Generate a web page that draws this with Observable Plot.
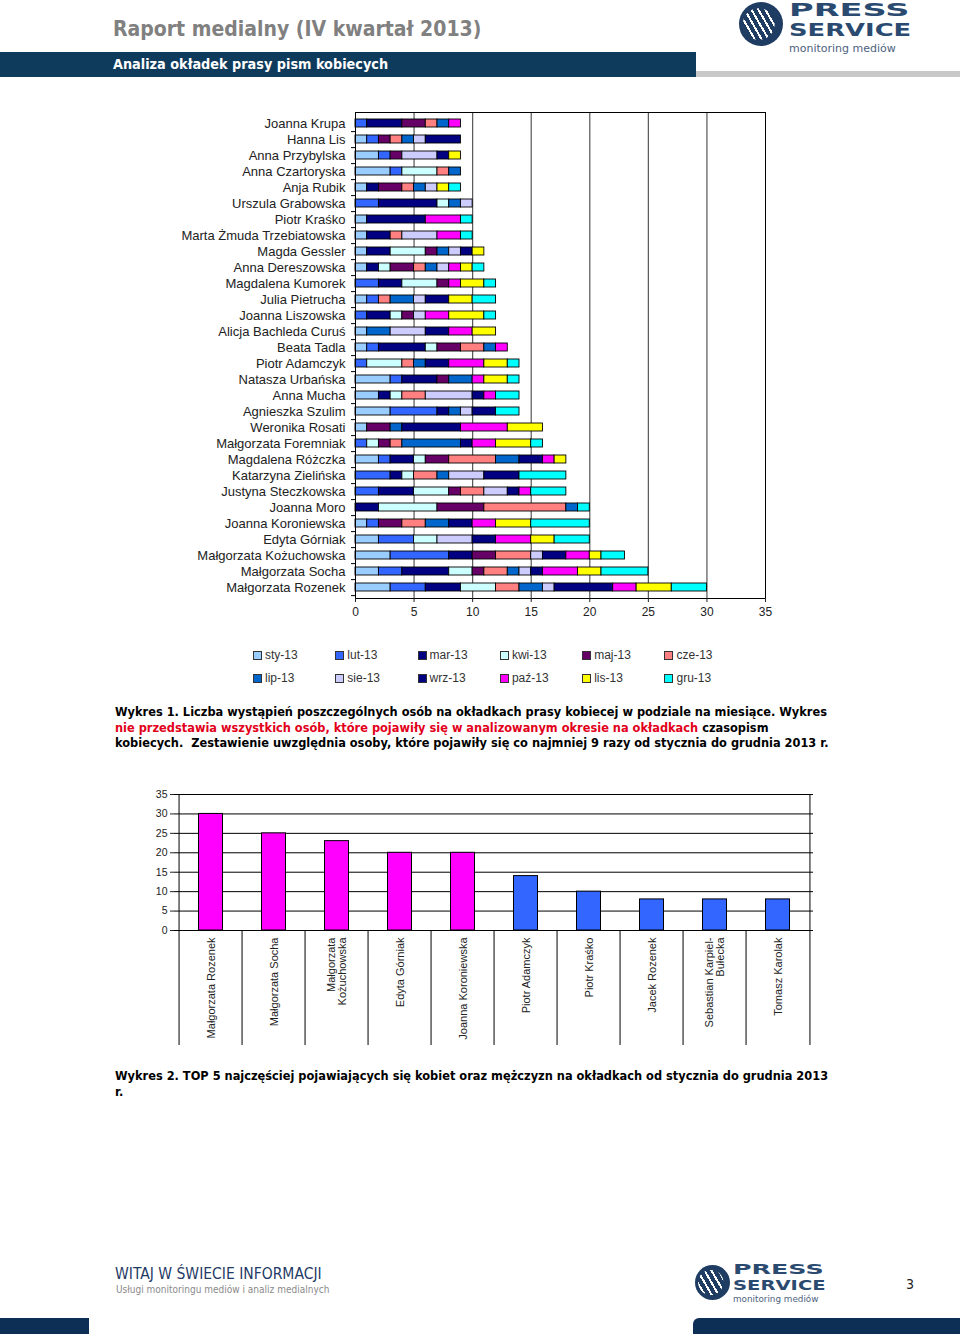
<!DOCTYPE html>
<html><head><meta charset="utf-8">
<script src="https://cdn.jsdelivr.net/npm/d3@7"></script>
<script src="https://cdn.jsdelivr.net/npm/@observablehq/plot@0.6"></script>
<style>
html,body{margin:0;padding:0;background:#fff;}
#page{position:relative;width:960px;height:1334px;overflow:hidden;font-family:"Liberation Sans",Arial,sans-serif;}
.abs{position:absolute;}
#title{left:113px;top:17px;font-family:"DejaVu Sans Condensed","DejaVu Sans",sans-serif;font-weight:bold;font-size:21px;color:#808080;white-space:nowrap;}
#band{left:0;top:52px;width:696px;height:25px;background:#0e3b5c;}
#bandtext{left:113px;top:56px;font-family:"DejaVu Sans Condensed","DejaVu Sans",sans-serif;font-weight:bold;font-size:14.3px;color:#fff;white-space:nowrap;}
#grayline{left:696px;top:71px;width:264px;height:6px;background:#c8c8c8;}
.logo{position:absolute;}
.logo .circ{position:absolute;border-radius:50%;background:#1f3d62;overflow:hidden;}
.logo .circ:after{content:"";position:absolute;inset:0;background:repeating-linear-gradient(60deg,transparent 0 4px,#ffffff 4px 6px);clip-path:circle(36% at 45% 50%);}
.logo .t1{position:absolute;font-family:"DejaVu Sans",sans-serif;font-weight:bold;color:#2b4a70;white-space:nowrap;transform-origin:0 0;line-height:1;}
.logo .t3{position:absolute;font-family:"DejaVu Sans","Liberation Sans",sans-serif;color:#4d6280;white-space:nowrap;line-height:1;}
.cap{font-family:"DejaVu Sans",Verdana,sans-serif;font-weight:bold;font-size:11.4px;line-height:15.5px;color:#000;white-space:nowrap;}
.red{color:#e2001a;}
#legend{left:253px;top:648px;display:grid;grid-template-columns:repeat(6,82.3px);row-gap:9px;font-size:12px;color:#333;}
#legend .it{display:flex;align-items:center;height:14px;white-space:nowrap;}
#legend .sw{width:7px;height:7px;border:1px solid #333;margin-right:3px;}
#foot1{left:115px;top:1265px;font-family:"DejaVu Sans Condensed","DejaVu Sans",sans-serif;font-size:15.5px;color:#1f3b66;white-space:nowrap;}
#foot2{left:116px;top:1284px;font-family:"DejaVu Sans Condensed","DejaVu Sans",sans-serif;font-size:10px;color:#8a8a8a;white-space:nowrap;}
#pnum{left:906px;top:1276px;font-family:"DejaVu Sans Condensed",sans-serif;font-size:14px;color:#222;}
#botL{left:0;top:1318px;width:89px;height:16px;background:#0e2f55;}
#botR{left:693px;top:1318px;width:267px;height:16px;background:#0e2f55;border-top-left-radius:6px;}
</style></head>
<body><div id="page">
<div id="title" class="abs">Raport medialny (IV kwartał 2013)</div>
<div id="band" class="abs"></div>
<div id="bandtext" class="abs">Analiza okładek prasy pism kobiecych</div>
<div id="grayline" class="abs"></div>
<div class="logo" style="left:739px;top:2px;width:180px;height:50px;">
  <div class="circ" style="left:0;top:0;width:44px;height:44px;"></div>
  <div class="t1" style="left:50px;top:0px;font-size:15px;transform:scale(2.24,1.15);">PRESS</div>
  <div class="t1" style="left:50px;top:20.3px;font-size:15px;transform:scale(1.72,1.15);">SERVICE</div>
  <div class="t3" style="left:50px;top:40.6px;font-size:11px;">monitoring mediów</div>
</div>
<div id="chart1" class="abs" style="left:0;top:100px;"></div>
<div id="legend" class="abs"></div>
<div class="abs cap" style="left:115px;top:705px;">Wykres 1. Liczba wystąpień poszczególnych osób na okładkach prasy kobiecej w podziale na miesiące. Wykres<br><span class="red">nie przedstawia wszystkich osób, które pojawiły się w analizowanym okresie na okładkach</span> czasopism<br>kobiecych.&nbsp; Zestawienie uwzględnia osoby, które pojawiły się co najmniej 9 razy od stycznia do grudnia 2013 r.</div>
<div id="chart2" class="abs" style="left:0;top:785px;"></div>
<div class="abs cap" style="left:115px;top:1069px;">Wykres 2. TOP 5 najczęściej pojawiających się kobiet oraz mężczyzn na okładkach od stycznia do grudnia 2013<br>r.</div>
<div id="foot1" class="abs">WITAJ W ŚWIECIE INFORMACJI</div>
<div id="foot2" class="abs">Usługi monitoringu mediów i analiz medialnych</div>
<div class="logo" style="left:695px;top:1264px;width:140px;height:40px;">
  <div class="circ" style="left:0;top:1px;width:35px;height:35px;"></div>
  <div class="t1" style="left:38px;top:0px;font-size:11.5px;transform:scale(2.2,1.15);">PRESS</div>
  <div class="t1" style="left:38px;top:15.5px;font-size:11.5px;transform:scale(1.7,1.15);">SERVICE</div>
  <div class="t3" style="left:38px;top:31px;font-size:8.8px;">monitoring mediów</div>
</div>
<div id="pnum" class="abs">3</div>
<div id="botL" class="abs"></div>
<div id="botR" class="abs"></div>
</div>
<script>
// ---- Chart 1 data ----
const months = ["sty-13","lut-13","mar-13","kwi-13","maj-13","cze-13","lip-13","sie-13","wrz-13","paź-13","lis-13","gru-13"];
const monthColors = ["#99ccff","#3366ff","#000080","#ccffff","#660066","#ff8080","#0066cc","#ccccff","#000080","#ff00ff","#ffff00","#00ffff"];
const people = ["Joanna Krupa","Hanna Lis","Anna Przybylska","Anna Czartoryska","Anja Rubik","Urszula Grabowska","Piotr Kraśko","Marta Żmuda Trzebiatowska","Magda Gessler","Anna Dereszowska","Magdalena Kumorek","Julia Pietrucha","Joanna Liszowska","Alicja Bachleda Curuś","Beata Tadla","Piotr Adamczyk","Natasza Urbańska","Anna Mucha","Agnieszka Szulim","Weronika Rosati","Małgorzata Foremniak","Magdalena Różczka","Katarzyna Zielińska","Justyna Steczkowska","Joanna Moro","Joanna Koroniewska","Edyta Górniak","Małgorzata Kożuchowska","Małgorzata Socha","Małgorzata Rozenek"];
// monthly counts per person, in the order of `months`
const monthlyCounts = [
  [0,1,3,0,2,1,1,0,0,1,0,0],
  [1,1,0,0,1,1,1,1,3,0,0,0],
  [2,1,0,0,1,0,0,3,1,0,1,0],
  [3,1,0,3,0,1,1,0,0,0,0,0],
  [1,0,1,0,2,1,1,1,0,0,1,1],
  [0,2,5,1,0,0,1,1,0,0,0,0],
  [1,0,5,0,0,0,0,0,0,3,0,1],
  [1,0,2,0,0,1,0,3,0,2,0,1],
  [1,0,2,3,1,0,1,1,1,0,1,0],
  [1,0,1,1,2,1,1,1,0,1,1,1],
  [0,2,2,3,1,0,0,0,0,1,2,1],
  [1,1,0,0,0,1,2,1,2,0,2,2],
  [0,1,2,1,1,0,0,1,0,2,3,1],
  [1,0,0,0,0,0,2,3,2,2,2,0],
  [1,1,4,1,2,2,1,0,0,1,0,0],
  [0,1,0,3,0,1,1,0,2,3,2,1],
  [3,1,3,0,1,0,2,0,0,1,2,1],
  [2,0,1,1,0,2,0,4,1,1,0,2],
  [3,4,1,0,0,0,1,1,2,0,0,2],
  [1,0,0,0,2,0,1,0,5,4,3,0],
  [0,1,0,1,1,1,5,0,1,2,3,1],
  [2,1,2,1,2,4,2,0,2,1,1,0],
  [0,3,1,1,0,2,1,3,3,0,0,4],
  [0,2,3,3,1,2,0,2,1,1,0,3],
  [0,0,2,5,4,7,1,0,0,0,0,1],
  [1,1,0,0,2,2,2,0,2,2,3,5],
  [2,3,0,2,0,0,0,3,2,3,2,3],
  [3,5,2,0,2,3,0,1,2,2,1,2],
  [2,2,4,2,1,2,1,1,1,3,2,4],
  [3,3,3,3,0,2,2,1,5,2,3,3]
];
const xTicks1 = [0,5,10,15,20,25,30,35];

// ---- Chart 2 data ----
const topNames = ["Małgorzata Rozenek","Małgorzata Socha","Małgorzata Kożuchowska","Edyta Górniak","Joanna Koroniewska","Piotr Adamczyk","Piotr Kraśko","Jacek Rozenek","Sebastian Karpiel-Bułecka","Tomasz Karolak"];
const topLabels = ["Małgorzata Rozenek","Małgorzata Socha","Małgorzata\nKożuchowska","Edyta Górniak","Joanna Koroniewska","Piotr Adamczyk","Piotr Kraśko","Jacek Rozenek","Sebastian Karpiel-\nBułecka","Tomasz Karolak"];
const topValues = [30,25,23,20,20,14,10,8,8,8];
const topGroup = ["K","K","K","K","K","M","M","M","M","M"];
const yTicks2 = [0,5,10,15,20,25,30,35];

// ---- Chart 1 ----
const longData = [];
people.forEach((p,i)=>months.forEach((m,j)=>{ if(monthlyCounts[i][j]>0) longData.push({name:p, month:m, value:monthlyCounts[i][j]}); }));

const W1=960, ML1=355, MR1=195, MT1=12, MB1=25, H1=MT1+486+MB1;
const step1 = (H1-MT1-MB1)/people.length;
const c1 = Plot.plot({
  width:W1, height:H1, marginLeft:ML1, marginRight:MR1, marginTop:MT1, marginBottom:MB1,
  style:{fontFamily:'"Liberation Sans",Arial,sans-serif', fontSize:"12px", color:"#222", background:"transparent", overflow:"visible"},
  x:{domain:[0,35], label:null},
  y:{domain:people, label:null, paddingInner:0.5, paddingOuter:0.25},
  color:{domain:months, range:monthColors},
  marks:[
    Plot.ruleX(xTicks1.filter(t=>t>0 && t<35), {stroke:"#555", strokeWidth:1.2}),
    Plot.barX(longData, Plot.stackX({x:"value", y:"name", fill:"month", order:months, stroke:"#000", strokeWidth:0.9})),
    Plot.frame({stroke:"#000", strokeWidth:1}),
    Plot.axisY({tickSize:0, tickPadding:10, fontSize:13}),
    Plot.axisY({tickSize:4, tickFormat:()=>"", dy:step1/2, stroke:"#000"}),
    Plot.axisX({ticks:xTicks1, tickSize:4, tickPadding:5, fontSize:12})
  ]
});
document.getElementById("chart1").appendChild(c1);

// legend
const leg = document.getElementById("legend");
months.forEach((m,j)=>{
  const it=document.createElement("div"); it.className="it";
  const sw=document.createElement("span"); sw.className="sw"; sw.style.background=monthColors[j];
  it.appendChild(sw); it.appendChild(document.createTextNode(m));
  leg.appendChild(it);
});

// ---- Chart 2 ----
const topData = topNames.map((n,i)=>({name:n, value:topValues[i], group:topGroup[i]}));
const W2=960, ML2=174, MR2=147, MT2=9, MB2=120, H2=MT2+136+MB2;
const bw = (W2-ML2-MR2)/topNames.length;
const labelOf = new Map(topNames.map((n,i)=>[n, topLabels[i]]));
const c2 = Plot.plot({
  width:W2, height:H2, marginLeft:ML2, marginRight:MR2, marginTop:MT2, marginBottom:MB2,
  style:{fontFamily:'"Liberation Sans",Arial,sans-serif', fontSize:"10px", color:"#222", background:"transparent", overflow:"visible"},
  x:{domain:topNames, padding:0, label:null},
  y:{domain:[0,35], label:null},
  color:{domain:["K","M"], range:["#ff00ff","#3366ff"]},
  marks:[
    Plot.ruleY(yTicks2, {stroke:"#000", strokeWidth:1}),
    Plot.barY(topData, {x:"name", y:"value", fill:"group", stroke:"#000", strokeWidth:1, insetLeft:19.5, insetRight:19.5}),
    Plot.axisY({ticks:yTicks2, tickSize:4, tickPadding:3, fontSize:10.5}),
    Plot.axisX({tickSize:MB2-5, tickFormat:()=>"", dx:-bw/2, stroke:"#000"}),
    Plot.axisX({ticks:[topNames[topNames.length-1]], tickSize:MB2-5, tickFormat:()=>"", dx:bw/2, stroke:"#000"}),
    Plot.ruleX([topNames[0]], {dx:-bw/2, stroke:"#000"}),
    Plot.ruleX([topNames[topNames.length-1]], {dx:bw/2, stroke:"#000"}),
    Plot.axisX({tickSize:0, tickPadding:7, tickRotate:-90, fontSize:11, tickFormat:d=>labelOf.get(d), lineHeight:1.05})
  ]
});
document.getElementById("chart2").appendChild(c2);
</script>
</body></html>
